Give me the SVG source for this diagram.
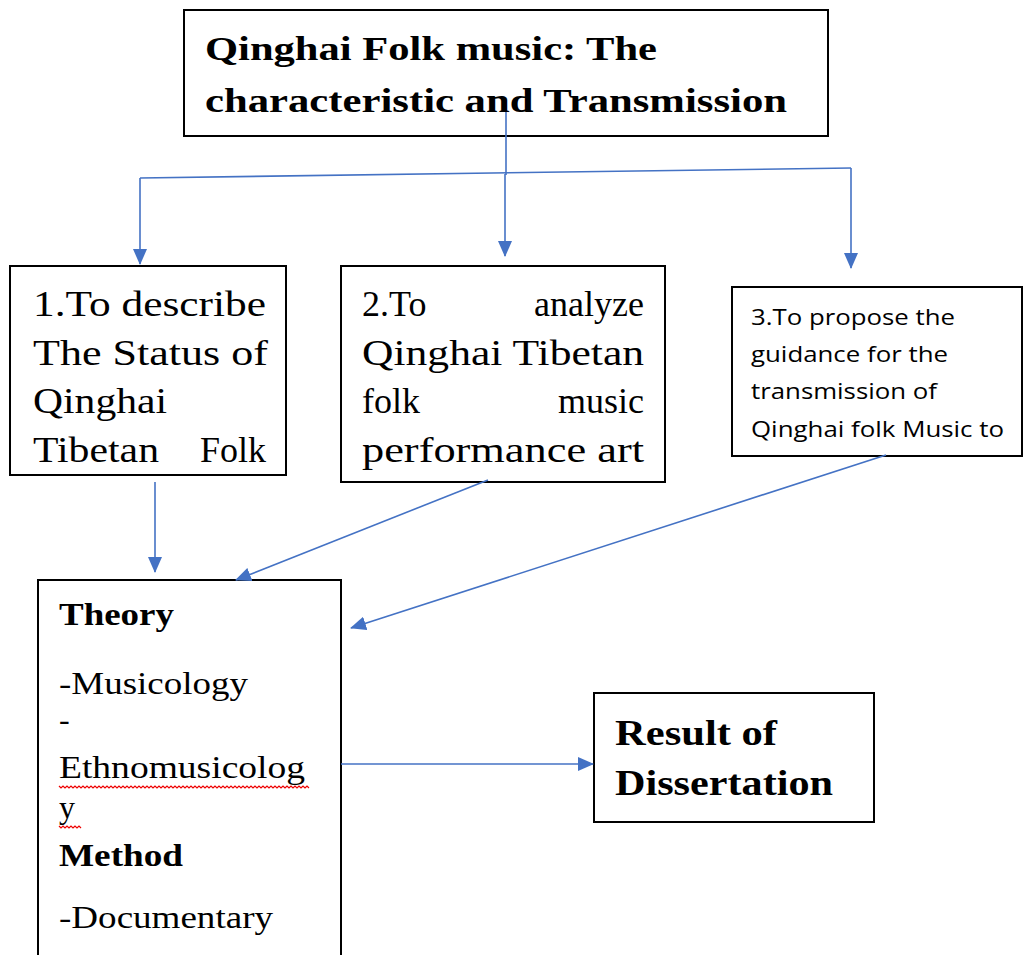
<svg xmlns="http://www.w3.org/2000/svg" width="1024" height="955" viewBox="0 0 1024 955">
<defs>
<style>
.box{fill:#fff;stroke:#000;stroke-width:2}
.ser{font-family:'Liberation Serif',Tinos,'Times New Roman',Times,serif;fill:#000}
.b{font-weight:bold}
.sans{font-family:'Open Sans','Noto Sans',sans-serif;fill:#000;font-size:21px}
.con{stroke:#4472C4;stroke-width:1.6;fill:none}
.wave{stroke:#e00;stroke-width:1.2;fill:none}
</style>
<marker id="a" markerWidth="16" markerHeight="14" refX="15" refY="7" orient="auto" markerUnits="userSpaceOnUse">
<path d="M0,0 L16,7 L0,14 Z" fill="#4472C4"/>
</marker>
</defs>
<rect width="1024" height="955" fill="#fff"/>

<g id="title">
<rect class="box" x="184" y="10" width="644" height="126"/>
<text class="ser b" font-family="Liberation Serif" x="205" y="60" font-size="33" textLength="452" lengthAdjust="spacingAndGlyphs">Qinghai Folk music: The</text>
<text class="ser b" font-family="Liberation Serif" x="205" y="112" font-size="33" textLength="582" lengthAdjust="spacingAndGlyphs">characteristic and Transmission</text>
</g>

<g id="obj1">
<rect class="box" x="10" y="266" width="276" height="209"/>
<text class="ser" x="33" y="316" font-size="36" textLength="233" lengthAdjust="spacingAndGlyphs">1.To describe</text>
<text class="ser" x="33" y="365" font-size="36" textLength="235" lengthAdjust="spacingAndGlyphs">The Status of</text>
<text class="ser" x="33" y="413" font-size="36" textLength="134" lengthAdjust="spacingAndGlyphs">Qinghai</text>
<text class="ser" x="33" y="462" font-size="36" textLength="126" lengthAdjust="spacingAndGlyphs">Tibetan</text>
<text class="ser" x="266" y="462" font-size="36" text-anchor="end">Folk</text>
</g>

<g id="obj2">
<rect class="box" x="341" y="266" width="324" height="216"/>
<text class="ser" x="362" y="316" font-size="36">2.To</text>
<text class="ser" x="644" y="316" font-size="36" text-anchor="end">analyze</text>
<text class="ser" x="362" y="365" font-size="36" textLength="282" lengthAdjust="spacingAndGlyphs">Qinghai Tibetan</text>
<text class="ser" x="362" y="413" font-size="36">folk</text>
<text class="ser" x="644" y="413" font-size="36" text-anchor="end">music</text>
<text class="ser" x="362" y="462" font-size="36" textLength="282" lengthAdjust="spacingAndGlyphs">performance  art</text>
</g>

<g id="obj3">
<rect class="box" x="732" y="287" width="290" height="169"/>
<text class="sans" x="751" y="325" textLength="204" lengthAdjust="spacingAndGlyphs">3.To propose the</text>
<text class="sans" x="751" y="362" textLength="197" lengthAdjust="spacingAndGlyphs">guidance for the</text>
<text class="sans" x="751" y="399" textLength="186" lengthAdjust="spacingAndGlyphs">transmission of</text>
<text class="sans" x="751" y="437" textLength="253" lengthAdjust="spacingAndGlyphs">Qinghai folk Music to</text>
</g>

<g id="method">
<rect class="box" x="38" y="580" width="303" height="390"/>
<text class="ser b" x="59" y="625" font-size="32" textLength="115" lengthAdjust="spacingAndGlyphs">Theory</text>
<text class="ser" x="59" y="694" font-size="32" textLength="189" lengthAdjust="spacingAndGlyphs">-Musicology</text>
<text class="ser" x="59" y="730" font-size="32">-</text>
<text class="ser" x="59" y="778" font-size="32" textLength="246" lengthAdjust="spacingAndGlyphs">Ethnomusicolog</text>
<text class="ser" x="59" y="818" font-size="32">y</text>
<text class="ser b" x="59" y="866" font-size="32" textLength="124" lengthAdjust="spacingAndGlyphs">Method</text>
<text class="ser" x="59" y="928" font-size="32" textLength="214" lengthAdjust="spacingAndGlyphs">-Documentary</text>
<path class="wave" d="M59,786 l2,2 l2,-2 l2,2 l2,-2 l2,2 l2,-2 l2,2 l2,-2 l2,2 l2,-2 l2,2 l2,-2 l2,2 l2,-2 l2,2 l2,-2 l2,2 l2,-2 l2,2 l2,-2 l2,2 l2,-2 l2,2 l2,-2 l2,2 l2,-2 l2,2 l2,-2 l2,2 l2,-2 l2,2 l2,-2 l2,2 l2,-2 l2,2 l2,-2 l2,2 l2,-2 l2,2 l2,-2 l2,2 l2,-2 l2,2 l2,-2 l2,2 l2,-2 l2,2 l2,-2 l2,2 l2,-2 l2,2 l2,-2 l2,2 l2,-2 l2,2 l2,-2 l2,2 l2,-2 l2,2 l2,-2 l2,2 l2,-2 l2,2 l2,-2 l2,2 l2,-2 l2,2 l2,-2 l2,2 l2,-2 l2,2 l2,-2 l2,2 l2,-2 l2,2 l2,-2 l2,2 l2,-2 l2,2 l2,-2 l2,2 l2,-2 l2,2 l2,-2 l2,2 l2,-2 l2,2 l2,-2 l2,2 l2,-2 l2,2 l2,-2 l2,2 l2,-2 l2,2 l2,-2 l2,2 l2,-2 l2,2 l2,-2 l2,2 l2,-2 l2,2 l2,-2 l2,2 l2,-2 l2,2 l2,-2 l2,2 l2,-2 l2,2 l2,-2 l2,2 l2,-2 l2,2 l2,-2 l2,2 l2,-2 l2,2 l2,-2 l2,2 l2,-2 l2,2 l2,-2 l2,2"/>
<path class="wave" d="M59,826 l2,2 l2,-2 l2,2 l2,-2 l2,2 l2,-2 l2,2 l2,-2 l2,2 l2,-2 l2,2"/>
</g>

<g id="result">
<rect class="box" x="594" y="693" width="280" height="129"/>
<text class="ser b" x="615" y="745" font-size="36" textLength="162" lengthAdjust="spacingAndGlyphs">Result of</text>
<text class="ser b" x="615" y="795" font-size="36" textLength="218" lengthAdjust="spacingAndGlyphs">Dissertation</text>
</g>

<g id="connectors">
<path class="con" d="M506,112 V175"/>
<path class="con" d="M140,178 L851,168"/>
<path class="con" d="M140,178 V264" marker-end="url(#a)"/>
<path class="con" d="M505,174 V256" marker-end="url(#a)"/>
<path class="con" d="M851,168 V268" marker-end="url(#a)"/>
<path class="con" d="M155,482 V572" marker-end="url(#a)"/>
<path class="con" d="M488,480 L236,580" marker-end="url(#a)"/>
<path class="con" d="M886,455 L351,628" marker-end="url(#a)"/>
<path class="con" d="M341,764 H593" marker-end="url(#a)"/>
</g>
</svg>
